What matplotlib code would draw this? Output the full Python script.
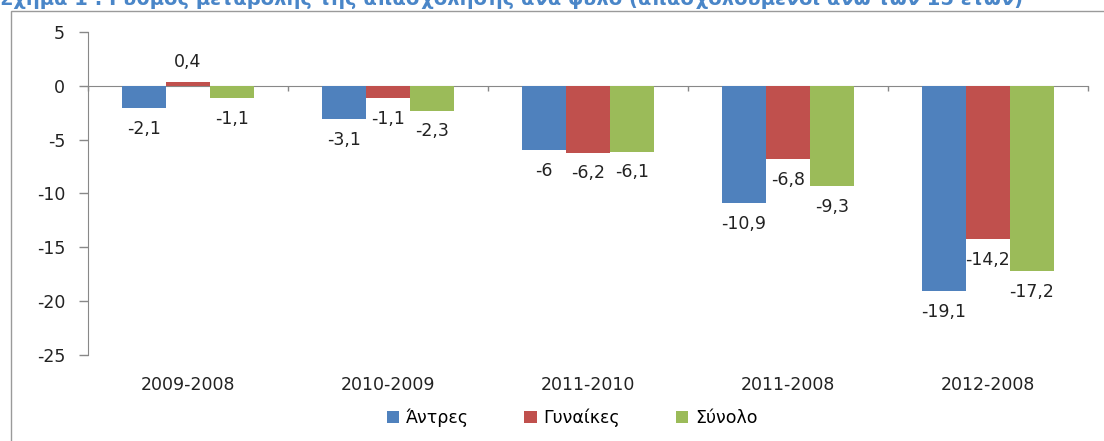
import matplotlib
matplotlib.use("Agg")
import matplotlib.pyplot as plt
import numpy as np
from matplotlib.patches import Rectangle

categories = ["2009-2008", "2010-2009", "2011-2010", "2011-2008", "2012-2008"]
series_names = ["Άντρες", "Γυναίκες", "Σύνολο"]
men = [-2.1, -3.1, -6.0, -10.9, -19.1]
women = [0.4, -1.1, -6.2, -6.8, -14.2]
total = [-1.1, -2.3, -6.1, -9.3, -17.2]
yticks = [5, 0, -5, -10, -15, -20, -25]
title = "Σχήμα 1 : Ρυθμός μεταβολής της απασχόλησης ανά φύλο (απασχολούμενοι άνω των 15 ετών)"

colors = ["#4F81BD", "#C0504D", "#9BBB59"]
plt.rcParams['font.family'] = ['DejaVu Sans']
FS = 12.5

W, H = 1104, 441
fig = plt.figure(figsize=(W / 100, H / 100), dpi=100)
ax = fig.add_axes([88 / W, 1 - 355 / H, (1088 - 88) / W, (355 - 32) / H])

# outer chart border
fig.patches.append(Rectangle((11 / W, -0.1), 1.2, 1 - 11 / H + 0.1, transform=fig.transFigure,
                             fill=False, edgecolor="#9a9a9a", linewidth=1.0))
fig.text(0.0, 1 - 5 / H, title, color="#4A86C8", fontsize=14, fontweight="bold",
         ha="left", va="baseline")

x = np.arange(len(categories))
bw = 0.22
data = [men, women, total]
for i, (vals, c, name) in enumerate(zip(data, colors, series_names)):
    pos = x + (i - 1) * bw
    ax.bar(pos, vals, width=bw, color=c, label=name, zorder=2)
    for xp, v in zip(pos, vals):
        txt = ("%g" % v).replace(".", ",")
        off = 14 if v > 0 else -15
        ax.annotate(txt, (xp, v), xytext=(0, off), textcoords="offset points",
                    ha="center", va="center", fontsize=FS, color="#222222")

ax.set_xlim(-0.5, len(categories) - 0.5)
ax.set_ylim(-25, 5)
ax.set_yticks(yticks)
ax.set_yticklabels([str(t) for t in yticks])
ax.set_xticks(x)
ax.set_xticklabels(categories)
ax.tick_params(axis="x", length=0, pad=15, labelsize=FS, colors="#222222")
ax.tick_params(axis="y", length=6.5, width=1, pad=10, labelsize=FS, colors="#888888",
               labelcolor="#222222")
for s in ["top", "right", "bottom"]:
    ax.spines[s].set_visible(False)
ax.spines["left"].set_color("#888888")

sec = ax.secondary_xaxis(0, transform=ax.transData)
sec.set_xticks(np.arange(len(categories) + 1) - 0.5)
sec.set_xticklabels([])
sec.tick_params(length=3.5, width=1, color="#888888")
sec.spines["bottom"].set_color("#888888")

fig.legend(loc="center", bbox_to_anchor=(572 / W, 1 - 418 / H), ncol=3, frameon=False,
           fontsize=FS, handlelength=0.7, handleheight=0.7, handletextpad=0.4,
           columnspacing=3.2)

fig.savefig("out.png", dpi=100)
